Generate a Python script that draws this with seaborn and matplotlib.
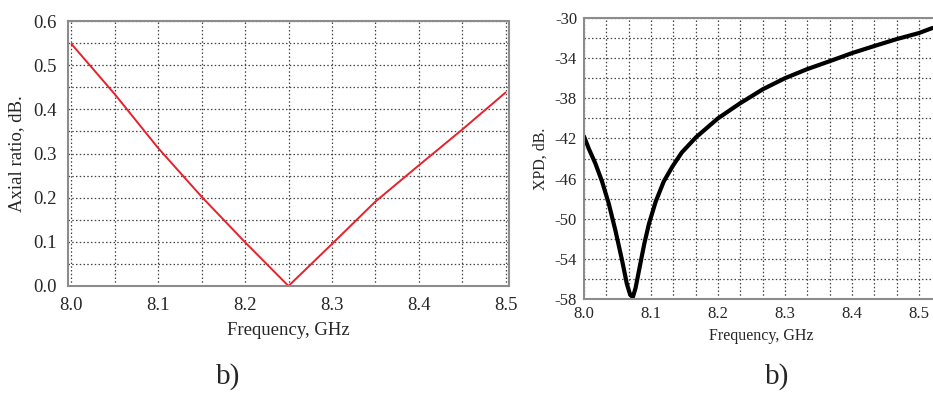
import pandas as pd
import seaborn as sns
import matplotlib
matplotlib.use("Agg")  # Use a non-interactive backend
import matplotlib.pyplot as plt
from matplotlib.ticker import MultipleLocator

# Axial ratio curve (left panel)
ar_freq = [8.00, 8.05, 8.10, 8.15, 8.20, 8.25, 8.30, 8.35, 8.40, 8.45, 8.50]
ar_db = [0.548, 0.434, 0.312, 0.202, 0.099, 0.0, 0.095, 0.191, 0.273, 0.354, 0.438]

# XPD curve (right panel)
xpd_freq = [8.000, 8.007, 8.017, 8.027, 8.037, 8.047, 8.057, 8.064, 8.069, 8.073,
            8.077, 8.082, 8.090, 8.097, 8.107, 8.119, 8.132, 8.146, 8.167, 8.200,
            8.233, 8.267, 8.300, 8.333, 8.367, 8.400, 8.433, 8.467, 8.500, 8.520]
xpd_db = [-41.8, -43.0, -44.5, -46.3, -48.5, -51.2, -54.2, -56.5, -57.6, -57.8,
          -56.9, -55.2, -52.5, -50.5, -48.3, -46.3, -44.8, -43.4, -41.9, -40.0,
          -38.5, -37.1, -36.0, -35.1, -34.3, -33.5, -32.8, -32.1, -31.5, -31.0]

left_yticks = [0.0, 0.1, 0.2, 0.3, 0.4, 0.5, 0.6]
left_xticks = [8.0, 8.1, 8.2, 8.3, 8.4, 8.5]
right_yticks = [-58, -54, -50, -46, -42, -38, -34, -30]
right_xticks = [8.0, 8.1, 8.2, 8.3, 8.4, 8.5]

sns.set_style("white")
plt.rcParams['font.family'] = ['Liberation Serif', 'DejaVu Serif']
plt.rcParams['axes.unicode_minus'] = False

fig = plt.figure(figsize=(9.33, 3.96), dpi=100)
ax1 = fig.add_axes([68 / 933, 1 - 286 / 396, 441 / 933, 265 / 396])
ax2 = fig.add_axes([584 / 933, 1 - 299 / 396, 355 / 933, 281 / 396])

grid_kw = dict(color='#444444', linestyle=(0, (1.2, 1.8)), linewidth=0.9)
spine_color = '#8c8c8c'

# Left panel
df_ar = pd.DataFrame({'freq': ar_freq, 'ar': ar_db})
sns.lineplot(data=df_ar, x='freq', y='ar', ax=ax1, color='#e8202a', linewidth=1.4)
ax1.set_xlim(7.996, 8.504)
ax1.set_ylim(0, 0.6)
ax1.set_xticks(left_xticks)
ax1.set_xticklabels([f"{v:.1f}" for v in left_xticks])
ax1.set_yticks(left_yticks)
ax1.set_yticklabels([f"{v:.1f}" for v in left_yticks])
ax1.xaxis.set_minor_locator(MultipleLocator(0.05))
ax1.yaxis.set_minor_locator(MultipleLocator(0.05))
ax1.grid(True, which='both', **grid_kw)
ax1.tick_params(labelsize=13.5, length=3, color=spine_color, pad=5)
ax1.tick_params(which='minor', length=0)
ax1.set_xlabel("Frequency, GHz", fontsize=13.5, labelpad=6)
ax1.set_ylabel("Axial ratio, dB.", fontsize=13.5, labelpad=6)
for s in ax1.spines.values():
    s.set_color(spine_color)
    s.set_linewidth(1.5)

# Right panel
df_xpd = pd.DataFrame({'freq': xpd_freq, 'xpd': xpd_db})
sns.lineplot(data=df_xpd, x='freq', y='xpd', ax=ax2, color='black', linewidth=3.0,
             solid_joinstyle='round', solid_capstyle='round')
ax2.set_xlim(8.0, 8.53)
ax2.set_ylim(-58, -30)
ax2.set_xticks(right_xticks)
ax2.set_xticklabels([f"{v:.1f}" for v in right_xticks])
ax2.set_yticks(right_yticks)
ax2.xaxis.set_minor_locator(MultipleLocator(0.1 / 3))
ax2.yaxis.set_minor_locator(MultipleLocator(2))
ax2.grid(True, which='both', **grid_kw)
ax2.tick_params(labelsize=12, length=0, pad=5)
ax2.set_xlabel("Frequency, GHz", fontsize=11.5, labelpad=4)
ax2.set_ylabel("XPD, dB.", fontsize=11.5, labelpad=4)
for s in ax2.spines.values():
    s.set_color(spine_color)
    s.set_linewidth(1.5)
ax2.spines['right'].set_visible(False)

# Panel captions
cap_font = ['Liberation Sans Narrow', 'Liberation Serif', 'DejaVu Sans']
fig.text(228 / 933, 1 - 377 / 396, "b)", fontsize=21, ha='center', va='center', family=cap_font)
fig.text(777 / 933, 1 - 377 / 396, "b)", fontsize=21, ha='center', va='center', family=cap_font)

fig.savefig("out.png", dpi=100)
